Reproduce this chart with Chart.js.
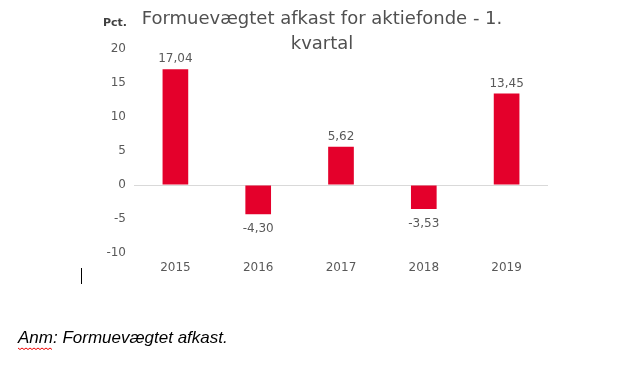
<!DOCTYPE html>
<html>
<head>
<meta charset="utf-8">
<script src="https://cdn.jsdelivr.net/npm/chart.js@4"></script>
<style>
  html, body { margin: 0; padding: 0; background: #fff; }
  #wrap { width: 639px; height: 377px; position: relative; }
</style>
</head>
<body>
<div id="wrap"><canvas id="myChart" width="639" height="377"></canvas></div>
<script>
// data
var aar = ['2015', '2016', '2017', '2018', '2019'];
var afkast = [17.04, -4.30, 5.62, -3.53, 13.45];
var yTicks = [-10, -5, 0, 5, 10, 15, 20];
var titelLinjer = ['Formuevægtet afkast for aktiefonde - 1.', 'kvartal'];
var enhed = 'Pct.';
var note = 'Anm: Formuevægtet afkast.';

var roed = '#E4002B';
var graa = '#595959';
var skrift = "'DejaVu Sans', sans-serif";

function tilKomma(v) {
    return v.toFixed(2).replace('.', ',');
}

// labels, title and footnote drawn on the canvas
var tekstPlugin = {
    id: 'tekster',
    afterDatasetsDraw: function (chart) {
        var ctx = chart.ctx;
        var meta = chart.getDatasetMeta(0);
        ctx.save();
        ctx.fillStyle = graa;
        ctx.font = '12px ' + skrift;
        ctx.textAlign = 'center';
        ctx.textBaseline = 'middle';
        meta.data.forEach(function (bar, i) {
            var v = afkast[i];
            var y = v >= 0 ? bar.y - 10 : bar.y + 15;
            ctx.fillText(tilKomma(v), bar.x, y);
        });
        ctx.restore();
    },
    afterDraw: function (chart) {
        var ctx = chart.ctx;
        ctx.save();
        // title
        ctx.fillStyle = '#505050';
        ctx.font = '18px ' + skrift;
        ctx.textAlign = 'center';
        ctx.textBaseline = 'middle';
        ctx.fillText(titelLinjer[0], 322, 19);
        ctx.fillText(titelLinjer[1], 322, 44);
        // unit
        ctx.font = 'bold 11px ' + skrift;
        ctx.fillStyle = '#404040';
        ctx.textAlign = 'right';
        ctx.fillText(enhed, 127, 23);
        // cursor mark
        ctx.strokeStyle = '#000';
        ctx.lineWidth = 1;
        ctx.beginPath();
        ctx.moveTo(81.5, 268);
        ctx.lineTo(81.5, 284);
        ctx.stroke();
        // footnote
        ctx.fillStyle = '#000';
        ctx.font = 'italic 17px "Liberation Sans", sans-serif';
        ctx.textAlign = 'left';
        ctx.fillText(note, 18, 338);
        // spelling squiggle under "Anm"
        var w = ctx.measureText('Anm').width;
        ctx.strokeStyle = '#e00';
        ctx.beginPath();
        for (var x = 18; x <= 18 + w; x += 2) {
            var yy = 348 + ((x - 18) % 4 === 0 ? 0 : 1.5);
            if (x === 18) ctx.moveTo(x, yy); else ctx.lineTo(x, yy);
        }
        ctx.stroke();
        ctx.restore();
    }
};

var ctx = document.getElementById('myChart').getContext('2d');
var chart = new Chart(ctx, {
    type: 'bar',
    data: {
        labels: aar,
        datasets: [{
            data: afkast,
            backgroundColor: roed,
            barPercentage: 0.31,
            categoryPercentage: 1
        }]
    },
    options: {
        responsive: false,
        animation: false,
        devicePixelRatio: 1,
        layout: { padding: { left: 94, right: 91, top: 49, bottom: 88 } },
        plugins: {
            legend: { display: false },
            title: { display: false },
            tooltip: { enabled: false }
        },
        scales: {
            x: {
                grid: { display: false, drawTicks: false },
                border: { display: false },
                ticks: { color: graa, font: { family: skrift, size: 12 }, padding: 8 },
                afterFit: function (s) { s.height = 36; }
            },
            y: {
                min: -10,
                max: 20,
                afterBuildTicks: function (s) {
                    s.ticks = yTicks.map(function (v) { return { value: v }; });
                },
                grid: {
                    drawTicks: false,
                    color: function (c) { return c.tick && c.tick.value === 0 ? '#d9d9d9' : 'rgba(0,0,0,0)'; },
                    lineWidth: 1
                },
                border: { display: false },
                ticks: { color: graa, font: { family: skrift, size: 12 }, padding: 8 },
                afterFit: function (s) { s.width = 40; }
            }
        }
    },
    plugins: [tekstPlugin]
});
</script>
</body>
</html>
